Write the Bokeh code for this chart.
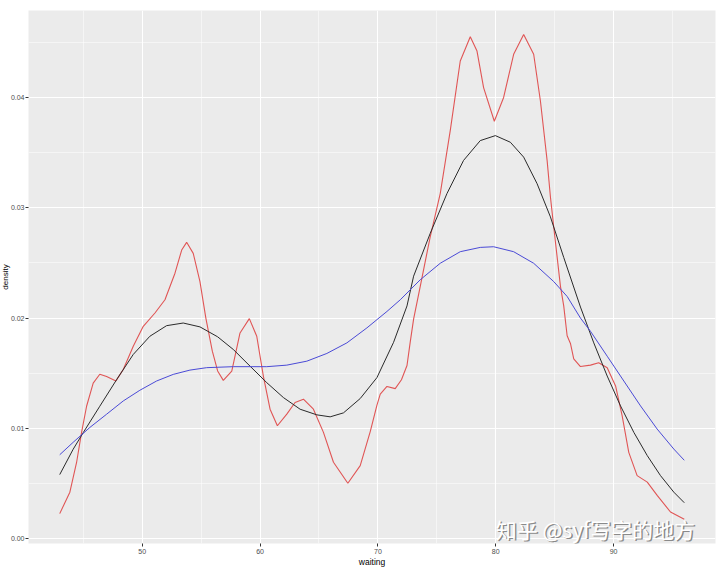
from bokeh.plotting import figure
from bokeh.models import Range1d, FixedTicker, Label, Title, PrintfTickFormatter
from bokeh.embed import file_html
from bokeh.resources import INLINE

# ---- data ----
red_x = [43.0, 43.86, 44.43, 44.85, 45.28, 45.84, 46.4, 46.98, 47.77, 48.39, 49.24, 50.09,
         51.08, 51.93, 52.78, 53.35, 53.77, 54.33, 54.9, 55.4, 55.95, 56.4, 56.88, 57.6,
         58.3, 59.09, 59.72, 60.28, 60.85, 61.47, 62.27, 62.97, 63.68, 64.53, 65.38, 66.23,
         67.45, 68.5, 69.35, 69.92, 70.2, 70.77, 71.47, 72.0, 72.47, 72.74, 73.03, 73.59,
         74.44, 75.29, 76.14, 76.99, 77.84, 78.41, 78.97, 79.88, 80.67, 81.52, 82.37, 83.22,
         83.79, 84.36, 84.64, 84.92, 85.49, 85.77, 86.06, 86.34, 86.62, 87.19, 88.04, 88.74,
         89.46, 90.17, 90.73, 91.29, 92.0, 92.86, 93.7, 94.83, 96.0]
red_y = [0.00226, 0.0042, 0.0069, 0.0096, 0.0120, 0.0141, 0.0149, 0.0147, 0.0143, 0.01534,
         0.01745, 0.01925, 0.02046, 0.02166, 0.02407, 0.02617, 0.02687, 0.02587, 0.0233,
         0.0200, 0.0170, 0.0152, 0.01435, 0.01519, 0.01865, 0.01995, 0.01835, 0.01474,
         0.01173, 0.01023, 0.01128, 0.01234, 0.01264, 0.01173, 0.00963, 0.00692, 0.00502,
         0.00662, 0.0097, 0.0121, 0.0131, 0.0138, 0.0136, 0.0144, 0.0157, 0.0178, 0.0199,
         0.02286, 0.02737, 0.03129, 0.0370, 0.04332, 0.04552, 0.04422, 0.04091, 0.03785,
         0.04001, 0.04393, 0.04573, 0.04393, 0.03971, 0.0343, 0.0310, 0.02828, 0.0229,
         0.0211, 0.0184, 0.0177, 0.0163, 0.0156, 0.01573, 0.01594, 0.0155, 0.01384, 0.01113,
         0.00782, 0.00571, 0.00512, 0.00391, 0.00241, 0.00175]

black_x = [43.0, 44.14, 44.99, 46.4, 47.82, 49.24, 50.65, 52.07, 53.48, 54.9, 56.4, 57.73,
           59.15, 60.57, 61.98, 63.4, 64.82, 65.95, 67.08, 68.5, 69.92, 71.33, 72.47, 73.03,
           74.44, 75.86, 77.27, 78.69, 79.97, 81.24, 82.37, 83.51, 84.64, 85.77, 87.19,
           88.32, 89.46, 90.59, 91.72, 92.86, 93.98, 95.11, 96.0]
black_y = [0.0058, 0.0081, 0.0096, 0.0120, 0.0144, 0.0167, 0.01835, 0.01931, 0.01955, 0.0192,
           0.0183, 0.01715, 0.01564, 0.01414, 0.01279, 0.01173, 0.01122, 0.01104, 0.0114,
           0.0127, 0.0146, 0.0178, 0.0211, 0.0238, 0.02768, 0.03129, 0.0343, 0.0361, 0.03655,
           0.03595, 0.0346, 0.03219, 0.02918, 0.0255, 0.0210, 0.01775, 0.01474, 0.01203,
           0.00963, 0.00752, 0.00571, 0.00421, 0.00325]

blue_x = [43.0, 44.14, 45.56, 46.98, 48.39, 49.8, 51.22, 52.63, 54.05, 55.47, 57.73, 60.57,
          62.27, 63.97, 65.67, 67.37, 69.07, 70.77, 71.9, 73.59, 75.29, 76.99, 78.69, 79.82,
          81.52, 83.22, 84.92, 86.06, 87.19, 88.04, 89.46, 90.87, 92.29, 93.7, 95.11, 96.0]
blue_y = [0.0076, 0.00873, 0.01008, 0.01128, 0.01248, 0.01345, 0.01429, 0.01489, 0.01528,
          0.0155, 0.01559, 0.01559, 0.01573, 0.01609, 0.01679, 0.01775, 0.01911, 0.0206,
          0.02166, 0.02347, 0.02497, 0.02602, 0.02641, 0.02647, 0.02602, 0.02497, 0.02331,
          0.02196, 0.0200, 0.0188, 0.01654, 0.01429, 0.01203, 0.00993, 0.00812, 0.0071]

x_major = [50, 60, 70, 80, 90]
x_minor = [45, 55, 65, 75, 85, 95]
y_major = [0.0, 0.01, 0.02, 0.03, 0.04]
y_minor = [0.005, 0.015, 0.025, 0.035, 0.045]
x_title = "waiting"
y_title = "density"
watermark = "知乎 @syf写字的地方"

# ---- figure ----
p = figure(width=720, height=569, output_backend="svg", toolbar_location=None,
           x_range=Range1d(40.35, 98.65), y_range=Range1d(-0.00045, 0.0479),
           min_border_left=0, min_border_right=5, min_border_top=10, min_border_bottom=0)
p.background_fill_color = "#ebebeb"
p.border_fill_color = "white"
p.outline_line_color = None

p.xaxis.ticker = FixedTicker(ticks=x_major, minor_ticks=x_minor)
p.yaxis.ticker = FixedTicker(ticks=y_major, minor_ticks=y_minor)
p.yaxis.formatter = PrintfTickFormatter(format="%.2f")

for g in (p.xgrid, p.ygrid):
    g.grid_line_color = "white"
    g.grid_line_width = 1.1
    g.minor_grid_line_color = "white"
    g.minor_grid_line_width = 0.5

for ax in (p.xaxis, p.yaxis):
    ax.axis_line_color = None
    ax.major_tick_line_color = "#333333"
    ax.major_tick_in = 0
    ax.major_tick_out = 3
    ax.minor_tick_line_color = None
    ax.major_label_text_font = "Liberation Sans"
    ax.major_label_text_font_size = "7px"
    ax.major_label_text_color = "#4d4d4d"
    ax.major_label_standoff = 1
    ax.axis_label_text_font = "Liberation Sans"
    ax.axis_label_text_font_size = "8.5px"
    ax.axis_label_text_font_style = "normal"
    ax.axis_label_text_color = "black"
    ax.axis_label_standoff = 0

p.yaxis.major_label_standoff = 0
p.xaxis.axis_label = x_title

# y-axis title as a vertical title in the left border
ytitle = Title(text=y_title, align="center", text_font="Liberation Sans",
               text_font_size="8px", text_font_style="normal", text_color="black",
               offset=0, standoff=-4)
p.add_layout(ytitle, "left")

p.line(red_x, red_y, line_color="#e05555", line_width=1.1)
p.line(black_x, black_y, line_color="#2a2a2a", line_width=1.0)
p.line(blue_x, blue_y, line_color="#4a4ad6", line_width=1.0)

shadow = Label(x=80.0, y=-0.00045, text=watermark, text_font="Noto Sans CJK SC",
               text_font_size="21px", text_color="#8a8a8a", text_baseline="bottom",
               x_offset=1.5, y_offset=-1.5)
wm = Label(x=80.0, y=-0.00045, text=watermark, text_font="Noto Sans CJK SC",
           text_font_size="21px", text_color="white", text_baseline="bottom")
p.add_layout(shadow)
p.add_layout(wm)

open("out.html", "w").write(file_html(p, INLINE))
